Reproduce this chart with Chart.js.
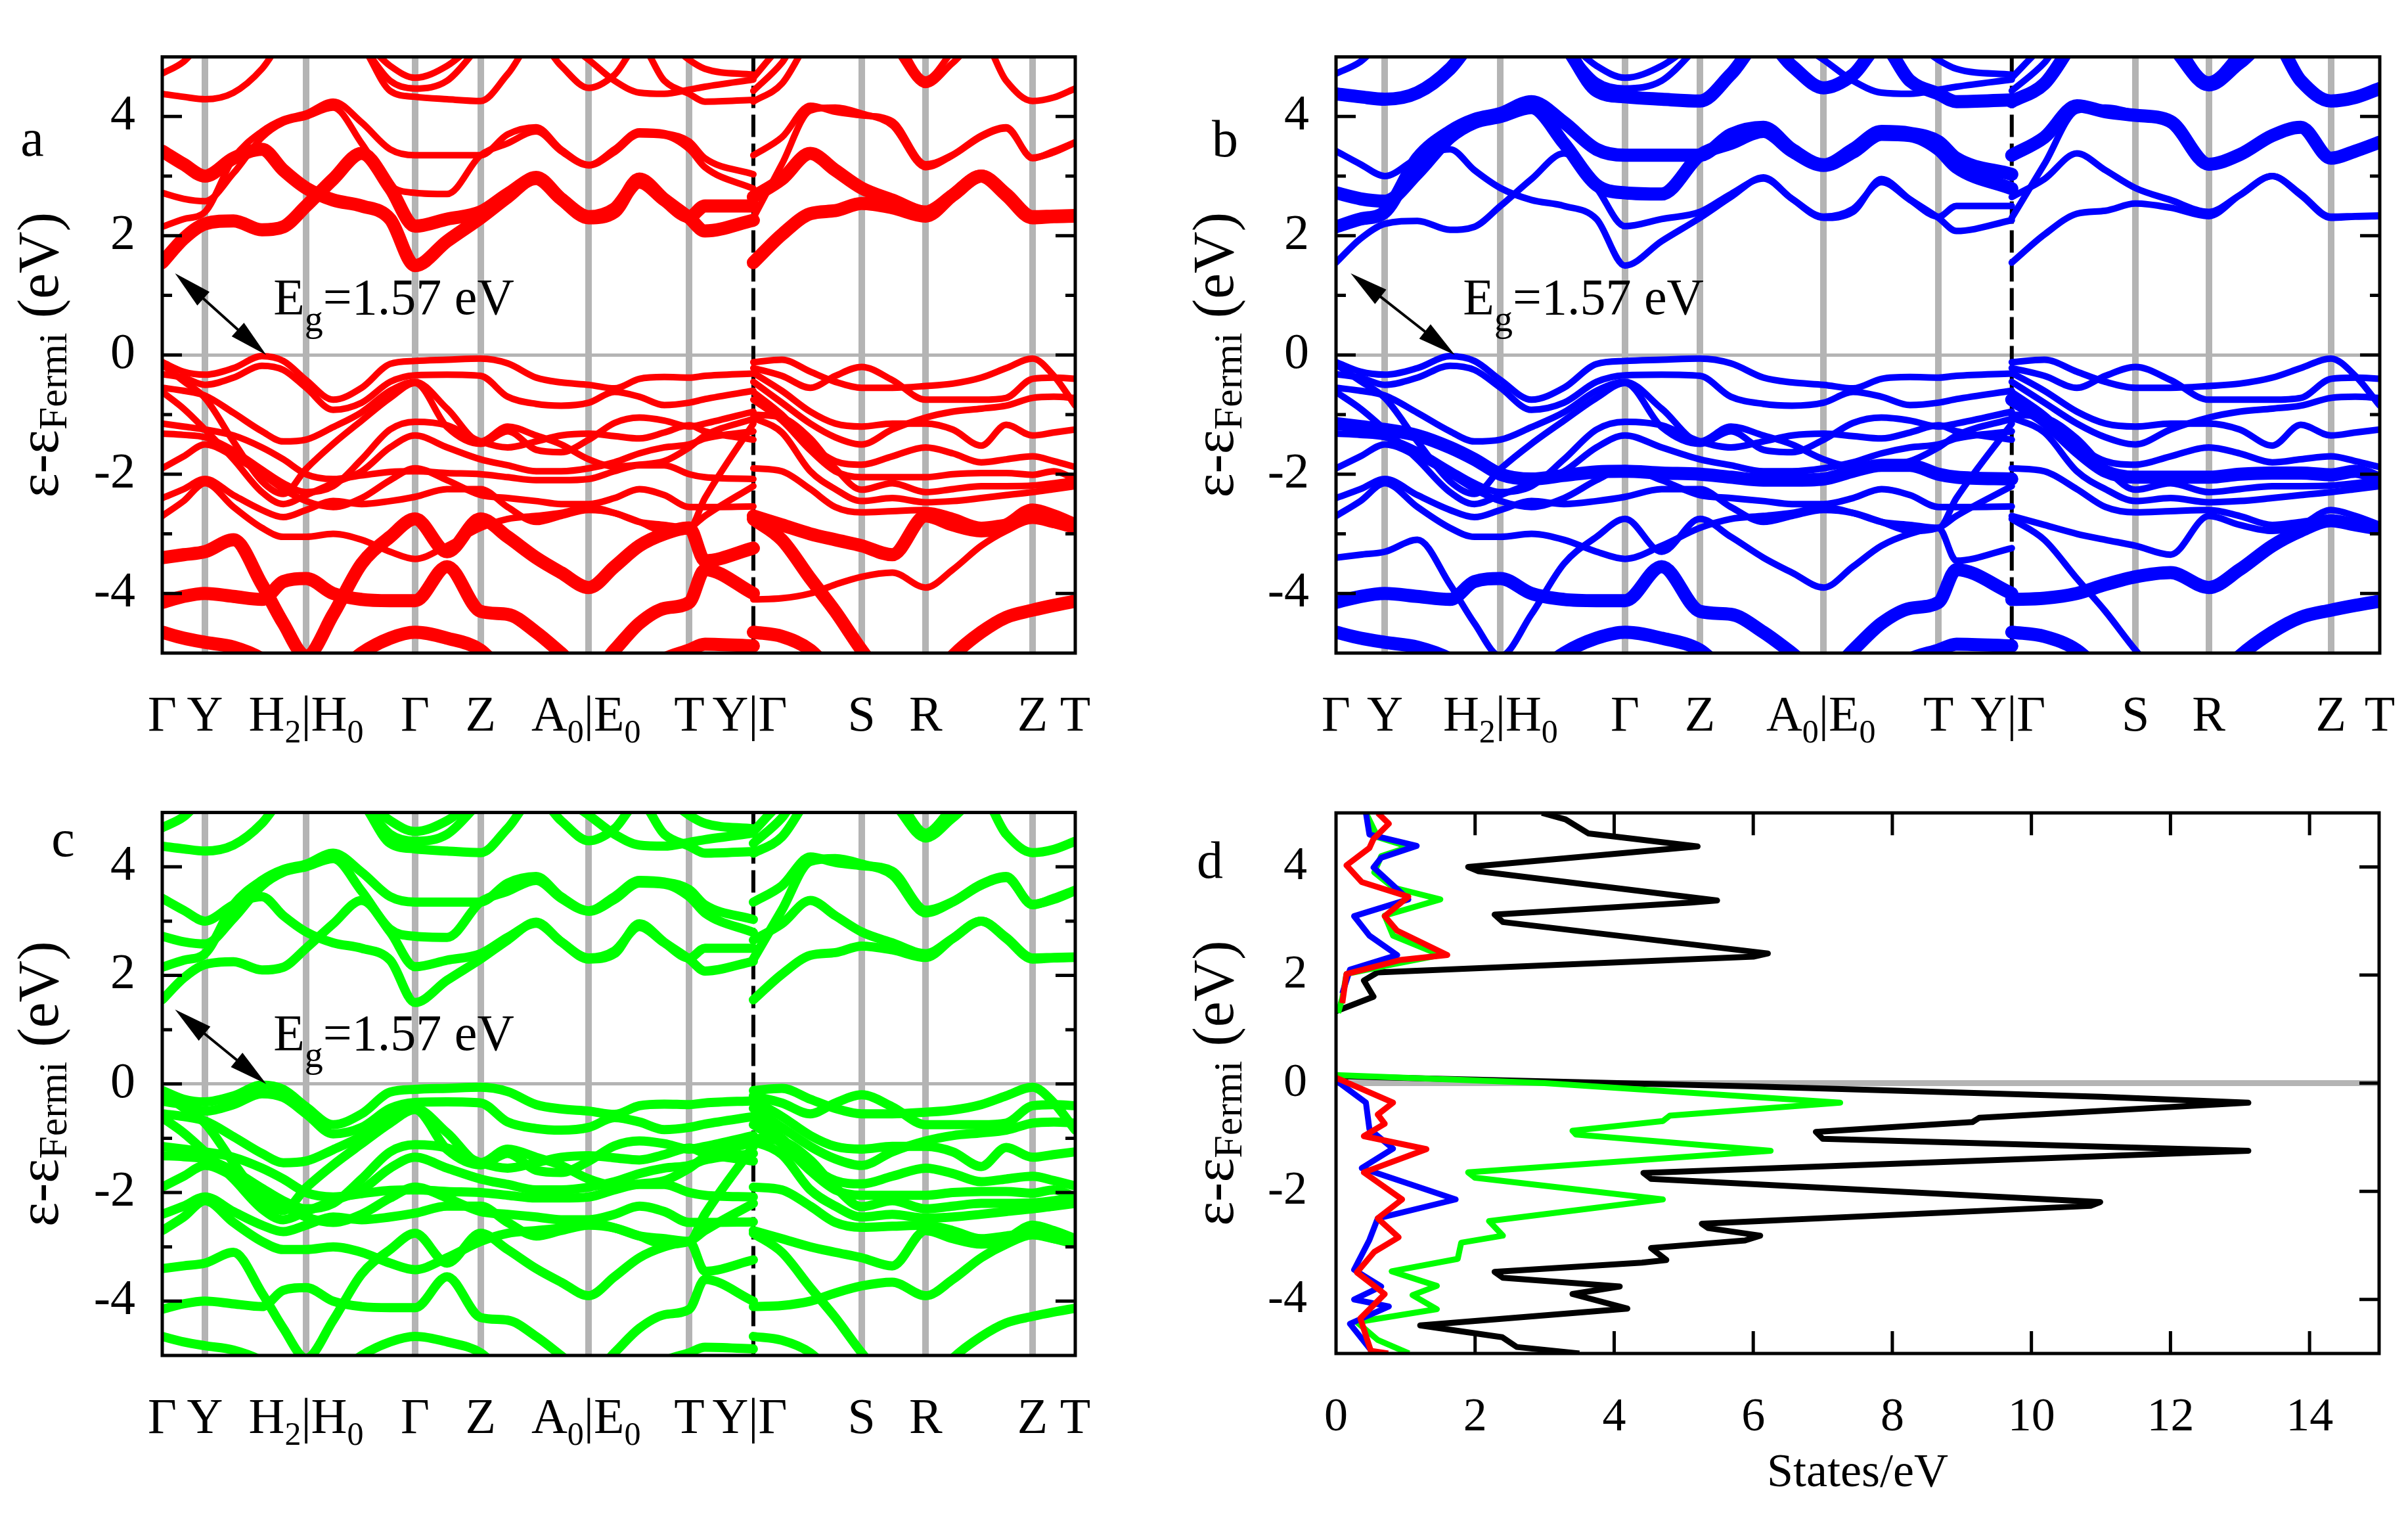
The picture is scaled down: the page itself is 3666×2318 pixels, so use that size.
<!DOCTYPE html>
<html>
<head>
<meta charset="utf-8">
<script src="https://cdn.jsdelivr.net/npm/chart.js@4.4.1/dist/chart.umd.min.js"></script>
<style>
html, body { margin: 0; padding: 0; background: #fff; }
#fig { position: relative; width: 3666px; height: 2318px; background: #fff; overflow: hidden; }
canvas { position: absolute; }
</style>
</head>
<body>
<div id="fig">
<canvas id="pa" width="1700" height="1150" style="left:0px;top:0px;width:1700px;height:1150px"></canvas>
<canvas id="pb" width="1916" height="1150" style="left:1750px;top:0px;width:1916px;height:1150px"></canvas>
<canvas id="pc" width="1700" height="1168" style="left:0px;top:1150px;width:1700px;height:1168px"></canvas>
<canvas id="pd" width="1916" height="1168" style="left:1750px;top:1150px;width:1916px;height:1168px"></canvas>
</div>
<script>
// k-path: high symmetry points and their labels
var symK = [0, 0.6, 2.02, 3.55, 4.47, 5.99, 7.4, 8.3, 9.82, 10.72, 12.22, 12.82];
var symLabels = ['Γ', 'Y', 'H_2|H_0', 'Γ', 'Z', 'A_0|E_0', 'T', 'Y|Γ', 'S', 'R', 'Z', 'T'];
var greyK = [0.6, 2.02, 3.55, 4.47, 5.99, 7.4, 9.82, 10.72, 12.22];
var breakK = 8.3;

// sampling of the path, left part (Γ..Y) and right part (Γ..T)
var kLeft = [0, 0.3, 0.6, 1.0, 1.4, 1.7, 2.02, 2.4, 2.8, 3.2, 3.55, 4.0, 4.47, 4.85, 5.25, 5.6, 5.99, 6.35, 6.7, 7.05, 7.4, 7.62, 8.3];
var kRight = [8.3, 8.7, 9.1, 9.45, 9.82, 10.25, 10.72, 11.1, 11.5, 11.85, 12.22, 12.52, 12.82];

// conduction bands, left part (eV)
var cL1 = [3.42, 3.20, 3.00, 3.30, 3.45, 3.10, 2.80, 2.60, 2.50, 2.28, 1.50, 1.91, 2.30, 2.65, 2.98, 2.62, 2.30, 2.40, 2.95, 2.61, 2.30, 2.08, 2.26];
var cL2 = [1.55, 1.95, 2.20, 2.25, 2.10, 2.15, 2.50, 2.95, 3.38, 2.80, 2.16, 2.28, 2.40, 2.70, 2.96, 2.62, 2.32, 2.45, 2.90, 2.60, 2.32, 2.50, 2.50];
var cL3 = [2.15, 2.28, 2.40, 3.30, 3.75, 3.95, 4.05, 4.25, 3.90, 3.45, 3.35, 3.35, 3.35, 3.70, 3.82, 3.45, 3.19, 3.45, 3.75, 3.72, 3.58, 3.30, 3.03];
var cL4 = [2.72, 2.62, 2.58, 3.05, 3.65, 3.90, 4.00, 4.15, 3.55, 2.85, 2.72, 2.70, 3.35, 3.55, 3.75, 3.42, 3.18, 3.40, 3.70, 3.68, 3.45, 3.15, 2.79];
var cL5 = [4.38, 4.33, 4.29, 4.40, 4.80, 5.30, 5.60, 5.60, 5.20, 4.43, 4.33, 4.29, 4.26, 4.71, 5.30, 4.85, 4.48, 4.70, 5.20, 4.60, 4.38, 4.25, 4.28];
var cL6 = [4.72, 4.92, 5.30, 5.60, 5.60, 5.60, 5.60, 5.60, 5.30, 4.85, 4.65, 4.85, 5.30, 5.60, 5.60, 5.30, 4.95, 4.60, 4.40, 4.38, 4.45, 4.50, 4.62];
var cL7 = [5.60, 5.60, 5.60, 5.60, 5.60, 5.60, 5.60, 5.60, 5.20, 4.60, 4.47, 4.60, 5.20, 5.60, 5.60, 5.60, 5.60, 5.60, 5.60, 5.30, 4.95, 4.80, 4.70];

// valence bands, left part (eV)
var vL1 = [-0.12, -0.28, -0.33, -0.22, -0.02, -0.10, -0.42, -0.75, -0.55, -0.15, -0.10, -0.08, -0.06, -0.14, -0.38, -0.46, -0.50, -0.56, -0.40, -0.37, -0.38, -0.35, -0.31];
var vL2 = [-0.32, -0.38, -0.50, -0.38, -0.18, -0.25, -0.55, -0.92, -0.80, -0.45, -0.34, -0.33, -0.35, -0.70, -0.82, -0.85, -0.80, -0.62, -0.70, -0.84, -0.80, -0.74, -0.60];
var vL3 = [-0.16, -0.44, -0.72, -1.45, -2.12, -2.33, -1.91, -1.49, -1.10, -0.72, -0.47, -1.21, -1.49, -1.28, -1.59, -1.63, -1.42, -1.14, -1.05, -1.10, -1.20, -1.15, -0.95];
var vL4 = [-0.55, -0.60, -0.68, -0.97, -1.28, -1.45, -1.42, -1.21, -0.96, -0.60, -0.45, -0.90, -1.45, -1.20, -1.35, -1.50, -1.75, -1.87, -1.84, -1.78, -1.55, -1.35, -1.07];
var vL5 = [-1.15, -1.20, -1.25, -1.35, -1.55, -1.75, -2.00, -2.08, -2.02, -1.96, -1.95, -1.98, -2.00, -2.05, -2.10, -2.10, -2.08, -1.95, -1.85, -1.85, -2.00, -2.05, -2.08];
var vL6 = [-1.32, -1.34, -1.38, -1.60, -1.92, -2.15, -2.30, -2.20, -1.75, -1.25, -1.12, -1.18, -1.45, -1.55, -1.45, -1.35, -1.32, -1.36, -1.40, -1.30, -1.18, -1.28, -1.42];
var vL7 = [-1.90, -1.70, -1.50, -1.70, -2.00, -2.25, -2.45, -2.55, -2.40, -2.10, -1.90, -2.10, -2.35, -2.40, -2.45, -2.50, -2.50, -2.40, -2.25, -2.35, -2.55, -2.55, -2.54];
var vL8 = [-2.40, -2.25, -2.08, -2.35, -2.60, -2.72, -2.60, -2.45, -2.50, -2.45, -2.38, -2.25, -2.25, -2.55, -2.80, -2.70, -2.60, -2.65, -2.80, -2.95, -2.90, -2.70, -2.20];
var vL9 = [-2.70, -2.45, -2.15, -2.55, -2.90, -3.05, -3.05, -3.00, -3.10, -3.30, -3.42, -3.20, -2.90, -2.75, -2.70, -2.65, -2.55, -2.65, -2.80, -2.85, -2.90, -2.40, -1.15];
var vL10 = [-3.40, -3.35, -3.30, -3.10, -3.85, -4.50, -5.05, -4.35, -3.50, -3.05, -2.75, -3.30, -2.75, -3.05, -3.40, -3.65, -3.90, -3.55, -3.20, -3.00, -2.90, -3.45, -3.24];
var vL11 = [-4.15, -4.05, -4.00, -4.05, -4.10, -3.80, -3.75, -4.00, -4.10, -4.12, -4.12, -3.55, -4.30, -4.35, -4.65, -5.00, -5.40, -4.95, -4.50, -4.25, -4.15, -3.60, -4.00];
var vL12 = [-4.65, -4.75, -4.82, -4.90, -5.10, -5.40, -5.60, -5.40, -5.00, -4.75, -4.65, -4.75, -4.95, -5.40, -5.60, -5.60, -5.60, -5.60, -5.40, -5.10, -4.95, -4.85, -4.88];
var vL13 = [-0.62, -0.90, -1.25, -1.75, -2.30, -2.50, -2.35, -2.15, -1.95, -1.55, -1.35, -1.55, -1.75, -1.85, -1.95, -1.95, -1.90, -1.80, -1.65, -1.55, -1.50, -1.40, -1.28];

// conduction bands, right part (eV)
var cR1 = [1.55, 2.02, 2.37, 2.42, 2.54, 2.47, 2.33, 2.68, 3.00, 2.68, 2.30, 2.32, 2.33];
var cR2 = [2.65, 2.95, 3.38, 3.10, 2.80, 2.60, 2.40, 2.68, 3.00, 2.70, 2.32, 2.33, 2.34];
var cR3 = [2.30, 3.20, 4.10, 4.15, 4.05, 3.85, 3.15, 3.35, 3.66, 3.80, 3.31, 3.40, 3.56];
var cR4 = [3.35, 3.65, 4.18, 4.08, 4.02, 3.92, 3.20, 3.36, 3.68, 3.82, 3.30, 3.42, 3.57];
var cR5 = [4.25, 4.55, 5.30, 5.60, 5.60, 5.20, 4.53, 4.90, 5.30, 4.60, 4.26, 4.32, 4.47];
var cR6 = [4.43, 4.90, 5.60, 5.60, 5.60, 5.40, 4.62, 5.10, 5.60, 5.60, 5.30, 5.60, 5.60];
var cR7 = [4.65, 5.20, 5.60, 5.60, 5.60, 5.60, 5.60, 5.60, 5.60, 5.60, 5.60, 5.60, 5.60];

// valence bands, right part (eV)
var vR1 = [-0.12, -0.08, -0.28, -0.45, -0.55, -0.55, -0.52, -0.48, -0.38, -0.22, -0.06, -0.35, -0.85];
var vR2 = [-0.22, -0.35, -0.55, -0.35, -0.20, -0.42, -0.75, -0.75, -0.75, -0.72, -0.40, -0.38, -0.40];
var vR3 = [-0.30, -0.60, -0.95, -1.15, -1.20, -1.15, -1.15, -1.25, -1.52, -1.17, -1.35, -1.30, -1.25];
var vR4 = [-0.45, -0.80, -1.15, -1.38, -1.50, -1.25, -1.05, -0.95, -0.90, -0.85, -0.72, -0.70, -0.72];
var vR5 = [-0.62, -1.00, -1.50, -1.78, -1.84, -1.70, -1.55, -1.65, -1.80, -1.75, -1.70, -1.78, -1.88];
var vR6 = [-0.75, -1.10, -1.60, -1.95, -2.05, -2.05, -2.05, -2.00, -1.98, -1.98, -2.01, -1.95, -2.08];
var vR7 = [-1.00, -1.05, -1.40, -1.90, -2.26, -2.15, -2.30, -2.25, -2.20, -2.20, -2.19, -2.15, -2.10];
var vR8 = [-1.05, -1.30, -1.95, -2.25, -2.45, -2.40, -2.47, -2.45, -2.40, -2.35, -2.30, -2.25, -2.20];
var vR9 = [-2.70, -2.85, -3.00, -3.10, -3.20, -3.35, -2.70, -2.85, -2.95, -2.85, -2.60, -2.70, -2.85];
var vR10 = [-1.90, -1.95, -2.25, -2.55, -2.64, -2.62, -2.60, -2.70, -2.85, -2.80, -2.75, -2.85, -2.95];
var vR11 = [-4.10, -4.08, -4.00, -3.85, -3.72, -3.65, -3.90, -3.60, -3.20, -2.95, -2.78, -2.85, -2.92];
var vR12 = [-2.75, -3.10, -3.75, -4.30, -4.95, -5.60, -6.00, -6.00, -6.00, -6.00, -6.00, -6.00, -6.00];
var vR13 = [-6.00, -6.00, -6.00, -6.00, -6.00, -6.00, -5.60, -5.05, -4.65, -4.40, -4.28, -4.20, -4.13];
var vR14 = [-4.65, -4.72, -4.95, -5.40, -6.00, -6.00, -6.00, -6.00, -6.00, -6.00, -6.00, -6.00, -6.00];

// density of states (panel d): energy (eV) and states/eV, null marks the gap
var totalE = [5.0, 4.88, 4.62, 4.38, 4.0, 3.92, 3.38, 3.34, 3.12, 2.98, 2.4, 2.34, 2.05, 1.9, 1.6, 1.38, 1.33, null, 0.13, 0.05, -0.06, -0.25, -0.36, -0.64, -0.72, -0.9, -1.03, -1.25, -1.66, -1.77, -2.2, -2.27, -2.6, -2.68, -2.82, -2.91, -3.05, -3.27, -3.32, -3.49, -3.6, -3.76, -3.9, -4.17, -4.48, -4.7, -4.88, -5.0];
var totalS = [2.96, 3.3, 3.63, 5.2, 1.9, 2.05, 5.48, 5.1, 2.28, 2.4, 6.21, 6.0, 0.6, 0.4, 0.54, 0.1, 0.0, null, 0.0, 2.5, 6.0, 11.0, 13.12, 9.25, 9.15, 6.9, 7.0, 13.12, 4.42, 4.53, 10.99, 10.85, 5.26, 5.35, 6.1, 5.88, 4.53, 4.75, 4.4, 2.28, 2.4, 4.08, 3.4, 4.19, 1.21, 2.39, 2.6, 3.5];
var greenE = [5.0, 4.55, 4.37, 4.2, 3.9, 3.62, 3.4, 3.1, 2.73, 2.55, 2.37, 2.2, 2.02, 1.57, 1.3, null, 0.15, 0.0, -0.36, -0.6, -0.7, -0.88, -0.95, -1.25, -1.65, -1.75, -2.15, -2.55, -2.82, -2.95, -3.25, -3.48, -3.75, -3.92, -4.18, -4.42, -4.75, -5.0];
var greenS = [0.43, 0.6, 1.05, 0.65, 0.55, 0.82, 1.5, 0.7, 0.82, 1.16, 1.5, 0.82, 0.15, 0.09, 0.03, null, 0.0, 3.0, 7.25, 4.8, 4.7, 3.4, 3.45, 6.25, 1.9, 2.0, 4.7, 2.2, 2.4, 1.8, 1.75, 0.8, 1.45, 1.1, 1.45, 0.3, 0.6, 1.05];
var redE = [5.0, 4.8, 4.52, 4.35, 4.03, 3.72, 3.45, 3.09, 2.82, 2.37, 2.28, 2.02, 1.48, null, 0.1, -0.36, -0.58, -0.75, -0.98, -1.22, -1.65, -2.15, -2.5, -2.85, -3.12, -3.5, -3.9, -4.35, -4.95, -5.0];
var redS = [0.6, 0.76, 0.54, 0.48, 0.15, 0.37, 1.04, 0.7, 0.88, 1.6, 0.93, 0.15, 0.09, null, 0.0, 0.82, 0.6, 0.7, 0.4, 1.3, 0.4, 0.95, 0.6, 0.9, 0.55, 0.3, 0.7, 0.35, 0.5, 0.75];
var blueE = [5.0, 4.6, 4.39, 4.17, 3.99, 3.4, 3.09, 2.73, 2.37, 2.1, 1.66, null, 0.05, -0.36, -0.85, -1.21, -1.57, -2.15, -2.5, -2.9, -3.45, -3.76, -4.0, -4.13, -4.45, -5.0];
var blueS = [0.43, 0.48, 1.16, 0.65, 0.54, 1.04, 0.26, 0.48, 0.88, 0.2, 0.09, null, 0.0, 0.43, 0.48, 0.82, 0.37, 1.72, 0.6, 0.48, 0.26, 0.65, 0.26, 0.76, 0.2, 0.54];

var SERIF = "'Liberation Serif', 'Times New Roman', serif";

var leftBands = [['cL1', cL1], ['cL2', cL2], ['cL3', cL3], ['cL4', cL4], ['cL5', cL5], ['cL6', cL6], ['cL7', cL7],
  ['vL1', vL1], ['vL2', vL2], ['vL3', vL3], ['vL4', vL4], ['vL5', vL5], ['vL6', vL6], ['vL7', vL7],
  ['vL8', vL8], ['vL9', vL9], ['vL10', vL10], ['vL11', vL11], ['vL12', vL12], ['vL13', vL13]];
var rightBands = [['cR1', cR1], ['cR2', cR2], ['cR3', cR3], ['cR4', cR4], ['cR5', cR5], ['cR6', cR6], ['cR7', cR7],
  ['vR1', vR1], ['vR2', vR2], ['vR3', vR3], ['vR4', vR4], ['vR5', vR5], ['vR6', vR6], ['vR7', vR7],
  ['vR8', vR8], ['vR9', vR9], ['vR10', vR10], ['vR11', vR11], ['vR12', vR12], ['vR13', vR13], ['vR14', vR14]];

// fat-band look: which bands are drawn heavy in each panel
var thickA = ['cL1', 'cL2', 'cR1', 'cR2', 'vL10', 'vL11', 'vL12', 'vR9', 'vR12', 'vR13', 'vR14'];
var thickB = ['cL3', 'cL4', 'cL5', 'cR4', 'cR5', 'vL5', 'vL11', 'vL12', 'vR6', 'vR11', 'vR13', 'vR14'];

function bandLine(ks, es, color, width) {
  return {
    data: ks.map(function (k, i) { return { x: k, y: es[i] }; }),
    borderColor: color, borderWidth: width, pointRadius: 0, pointHoverRadius: 0,
    cubicInterpolationMode: 'monotone', borderCapStyle: 'round', borderJoinStyle: 'round', clip: 0
  };
}

function dosLine(es, ss, color) {
  return {
    data: es.map(function (e, i) { return e === null ? { x: null, y: null } : { x: ss[i], y: e }; }),
    borderColor: color, borderWidth: 9, pointRadius: 0, tension: 0,
    borderJoinStyle: 'round', spanGaps: false, clip: 0
  };
}

// text made of runs, supporting subscripts ("_x") and an anchor char "|"
function parseRuns(s, size, subSize, subDy) {
  var runs = [], cur = '';
  for (var i = 0; i < s.length; i++) {
    var c = s[i];
    if (c === '_' || c === '|') {
      if (cur) { runs.push({ t: cur, size: size }); cur = ''; }
      if (c === '_') { runs.push({ t: s[i + 1], size: subSize, dy: subDy }); i++; }
      else runs.push({ t: '|', size: size, anchor: true });
    } else cur += c;
  }
  if (cur) runs.push({ t: cur, size: size });
  return runs;
}

function drawRuns(ctx, runs, x, y, mode) {
  var w = runs.map(function (r) { ctx.font = r.size + 'px ' + SERIF; return ctx.measureText(r.t).width; });
  var total = w.reduce(function (a, b) { return a + b; }, 0);
  var start = x;
  if (mode !== 'left') {
    var ai = -1;
    runs.forEach(function (r, i) { if (r.anchor) ai = i; });
    if (ai < 0) start = x - total / 2;
    else {
      var before = 0;
      for (var i = 0; i < ai; i++) before += w[i];
      start = x - before - w[ai] / 2;
    }
  }
  ctx.textAlign = 'left';
  runs.forEach(function (r, i) {
    ctx.font = r.size + 'px ' + SERIF;
    ctx.fillText(r.t, start, y + (r.dy || 0));
    start += w[i];
  });
}

function arrowHead(ctx, x0, y0, x1, y1) {
  var a = Math.atan2(y1 - y0, x1 - x0), len = 58, half = 14;
  var bx = x1 - len * Math.cos(a), by = y1 - len * Math.sin(a);
  ctx.beginPath();
  ctx.moveTo(x1, y1);
  ctx.lineTo(bx + half * Math.sin(a), by - half * Math.cos(a));
  ctx.lineTo(bx - half * Math.sin(a), by + half * Math.cos(a));
  ctx.closePath();
  ctx.fill();
}

var deco = {
  id: 'deco',
  beforeDatasetsDraw: function (chart, args, o) {
    if (o.breakK === undefined) return;
    var ctx = chart.ctx, a = chart.chartArea, x = chart.scales.x.getPixelForValue(o.breakK);
    ctx.save();
    ctx.strokeStyle = '#000'; ctx.lineWidth = 6; ctx.setLineDash([34, 10]);
    ctx.beginPath(); ctx.moveTo(x, a.top); ctx.lineTo(x, a.bottom); ctx.stroke();
    ctx.restore();
  },
  afterDraw: function (chart, args, o) {
    var ctx = chart.ctx, a = chart.chartArea, sx = chart.scales.x, sy = chart.scales.y;
    ctx.save();
    ctx.strokeStyle = '#000'; ctx.fillStyle = '#000'; ctx.lineWidth = 5;
    ctx.strokeRect(a.left, a.top, a.right - a.left, a.bottom - a.top);

    // inward ticks
    ctx.beginPath();
    (o.yTicks || []).forEach(function (v) {
      var y = sy.getPixelForValue(v), len = (v % 2 === 0) ? 30 : 15;
      if (o.leftTicks) { ctx.moveTo(a.left, y); ctx.lineTo(a.left + len, y); }
      ctx.moveTo(a.right - len, y); ctx.lineTo(a.right, y);
    });
    (o.xTicks || []).forEach(function (v) {
      var x = sx.getPixelForValue(v);
      ctx.moveTo(x, a.top); ctx.lineTo(x, a.top + 34);
      ctx.moveTo(x, a.bottom - 34); ctx.lineTo(x, a.bottom);
    });
    ctx.stroke();

    ctx.textBaseline = 'alphabetic';
    // k-point labels
    if (o.kLabels) {
      symK.forEach(function (k, i) {
        drawRuns(ctx, parseRuns(symLabels[i], 76, 50, 18), sx.getPixelForValue(k), a.bottom + 118, 'anchor');
      });
    }

    // gap annotation
    if (o.egE !== undefined) {
      var x0 = sx.getPixelForValue(0.18), y0 = sy.getPixelForValue(1.37);
      var x1 = sx.getPixelForValue(1.46), y1 = sy.getPixelForValue(0.0);
      var ang = Math.atan2(y1 - y0, x1 - x0);
      ctx.lineWidth = 4;
      ctx.beginPath();
      ctx.moveTo(x0 + 50 * Math.cos(ang), y0 + 50 * Math.sin(ang));
      ctx.lineTo(x1 - 50 * Math.cos(ang), y1 - 50 * Math.sin(ang));
      ctx.stroke();
      arrowHead(ctx, x1, y1, x0, y0);
      arrowHead(ctx, x0, y0, x1, y1);
      drawRuns(ctx, [{ t: 'E', size: 78 }, { t: 'g', size: 56, dy: 26 }, { t: '=1.57 eV', size: 78 }],
        sx.getPixelForValue(1.56), sy.getPixelForValue(o.egE), 'left');
    }

    // y axis title, rotated
    ctx.save();
    ctx.translate(o.titleX, (a.top + a.bottom) / 2);
    ctx.rotate(-Math.PI / 2);
    ctx.textBaseline = 'middle';
    drawRuns(ctx, [{ t: 'ε-ε', size: 88 }, { t: 'Fermi', size: 62, dy: 20 }, { t: ' (eV)', size: 88 }], 0, 0, 'center');
    ctx.restore();

    // panel letter
    ctx.textAlign = 'center';
    ctx.font = '80px ' + SERIF;
    ctx.fillText(o.letter, o.letterX, o.letterY);
    ctx.restore();
  }
};

function baseOptions(pad, yW, xH, tickSize, tickPad) {
  return {
    responsive: false, animation: false, devicePixelRatio: 1, events: [],
    layout: { padding: pad },
    plugins: { legend: { display: false }, tooltip: { enabled: false } },
    scales: {
      y: {
        type: 'linear', min: -5, max: 5,
        ticks: { stepSize: 1, autoSkip: false, padding: tickPad, color: '#000', font: { family: SERIF, size: tickSize },
          callback: function (v) { return v % 2 === 0 ? String(v) : ''; } },
        grid: { drawTicks: false, lineWidth: 5, color: function (c) { return c.tick && c.tick.value === 0 ? '#b4b4b4' : 'rgba(0,0,0,0)'; } },
        border: { display: false },
        afterFit: function (s) { s.width = yW; }
      }
    }
  };
}

function bandPanel(id, color, widthOf, pad, yW, xH, extra) {
  var datasets = [];
  leftBands.forEach(function (b) { datasets.push(bandLine(kLeft, b[1], color, widthOf(b[0]))); });
  rightBands.forEach(function (b) { datasets.push(bandLine(kRight, b[1], color, widthOf(b[0]))); });
  var opts = baseOptions(pad, yW, xH, 76, 41);
  opts.scales.x = {
    type: 'linear', min: 0, max: 12.82,
    ticks: { display: false },
    grid: { color: '#b4b4b4', lineWidth: 10, drawTicks: false },
    border: { display: false },
    afterBuildTicks: function (s) { s.ticks = greyK.map(function (v) { return { value: v }; }); },
    afterFit: function (s) { s.height = xH; }
  };
  opts.plugins.deco = Object.assign({ breakK: breakK, yTicks: [-4, -3, -2, -1, 0, 1, 2, 3, 4], leftTicks: true, kLabels: true }, extra);
  return new Chart(document.getElementById(id), { type: 'line', data: { datasets: datasets }, options: opts, plugins: [deco] });
}

bandPanel('pa', '#ff0000', function (n) { return thickA.indexOf(n) >= 0 ? 20 : 10; },
  { left: 0, top: 41, right: 63, bottom: 0 }, 247, 156,
  { egE: 0.69, titleX: 65, letter: 'a', letterX: 49, letterY: 237 });

bandPanel('pb', '#0000ff', function (n) { return thickB.indexOf(n) >= 0 ? 20 : 10; },
  { left: 0, top: 41, right: 43, bottom: 0 }, 284, 156,
  { egE: 0.69, titleX: 104, letter: 'b', letterX: 115, letterY: 238 });

bandPanel('pc', '#00ff00', function () { return 14; },
  { left: 0, top: 78, right: 63, bottom: 0 }, 247, 255,
  { egE: 0.63, titleX: 65, letter: 'c', letterX: 96, letterY: 153 });

// panel d: density of states
(function () {
  var opts = baseOptions({ left: 0, top: 78, right: 44, bottom: 0 }, 284, 258, 72, 44);
  opts.scales.x = {
    type: 'linear', min: 0, max: 15,
    ticks: { stepSize: 2, includeBounds: false, padding: 55, color: '#000', font: { family: SERIF, size: 72 } },
    grid: { display: false, drawTicks: false },
    border: { display: false },
    title: { display: true, text: 'States/eV', color: '#000', font: { family: SERIF, size: 72 }, padding: { top: 0, bottom: 32 } },
    afterFit: function (s) { s.height = 258; }
  };
  opts.scales.y.grid.lineWidth = 9;
  opts.plugins.deco = { yTicks: [-4, -2, 0, 2, 4], leftTicks: false, xTicks: [2, 4, 6, 8, 10, 12, 14],
    titleX: 104, letter: 'd', letterX: 92, letterY: 186 };
  new Chart(document.getElementById('pd'), {
    type: 'line',
    data: { datasets: [dosLine(redE, redS, '#ff0000'), dosLine(blueE, blueS, '#0000ff'),
      dosLine(greenE, greenS, '#00ff00'), dosLine(totalE, totalS, '#000000')] },
    options: opts, plugins: [deco]
  });
})();
</script>
</body>
</html>
